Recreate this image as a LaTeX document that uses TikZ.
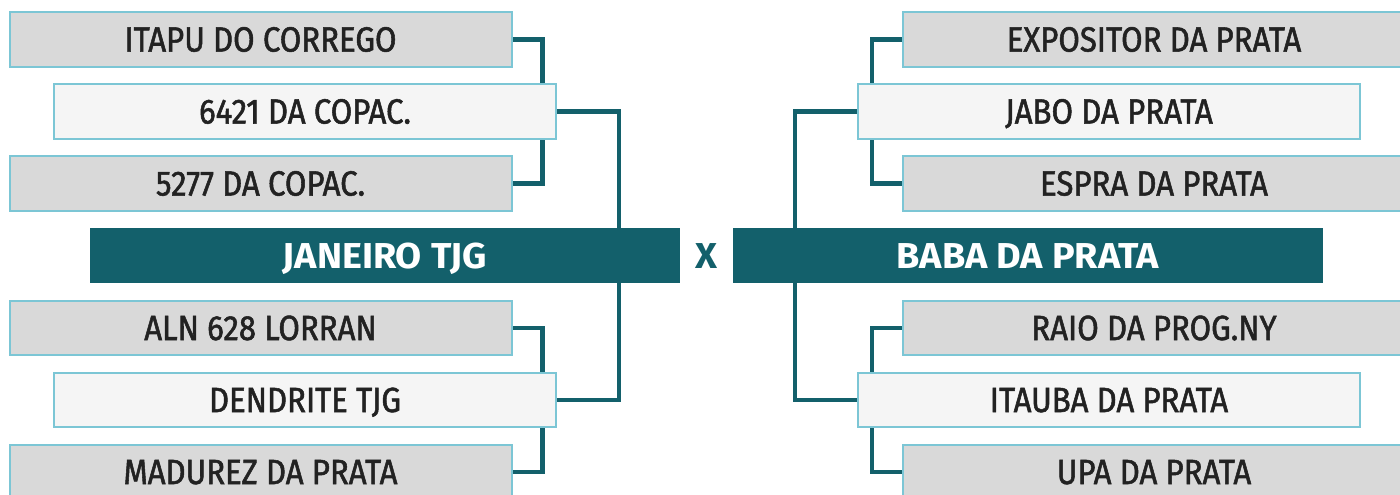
\documentclass[tikz,border=0pt]{standalone}
\usepackage{fontspec}
\setmainfont{Fira Sans}[FakeStretch=0.89, FakeBold=1.5]
\newfontfamily\finalfont{Fira Sans}[FakeStretch=1.05]
\usepackage{xcolor}
\usetikzlibrary{positioning, calc, backgrounds}

\definecolor{tealdark}{HTML}{13606B}
\definecolor{boxedge}{HTML}{7CC6D5}
\definecolor{boxgray}{HTML}{D9D9D9}
\definecolor{boxlight}{HTML}{F5F5F5}
\definecolor{inktext}{HTML}{222222}

\begin{document}
\begin{tikzpicture}[
    x=1pt, y=1pt,
    node distance=17.5pt,
    every node/.style={inner sep=0pt, outer sep=0pt, font=\fontsize{35}{42}\selectfont},
    team/.style={
        draw=boxedge,
        line width=2pt,
        fill=boxgray,
        text=inktext,
        minimum width=502pt,
        minimum height=54.5pt,
        text height=24pt,
        text depth=0pt
    },
    seed/.style={team, fill=boxlight},
    final/.style={
        fill=tealdark,
        text=white,
        minimum width=590pt,
        minimum height=55pt,
        text height=24.5pt,
        text depth=0pt,
        font=\fontsize{36}{42}\selectfont\finalfont\bfseries
    },
    vs/.style={text=tealdark, font=\fontsize{36}{42}\selectfont\finalfont\bfseries},
    link/.style={draw=tealdark, line width=4.5pt}
]
\useasboundingbox (0,0) rectangle (1400,-495);

% finalists
\node[final] (jan) at (385,-255.8) {JANEIRO TJG};
\node[final, right=53pt of jan] (bab) {BABA DA PRATA};
\node[vs] (versus) at ($(jan.east)!0.5!(bab.west)$) {X};

% left side
\node[team, above=of jan, xshift=-124.5pt] (a3) {5277 DA COPAC.};
\node[seed, above=of a3, xshift=44.5pt] (a2) {6421 DA COPAC.};
\node[team, above=of a2, xshift=-44.5pt] (a1) {ITAPU DO CORREGO};
\node[team, below=of jan, xshift=-124.5pt] (b1) {ALN 628 LORRAN};
\node[seed, below=of b1, xshift=44.5pt] (b2) {DENDRITE TJG};
\node[team, below=of b2, xshift=-44.5pt] (b3) {MADUREZ DA PRATA};

% right side
\node[team, above=of bab, xshift=126pt] (c3) {ESPRA DA PRATA};
\node[seed, above=of c3, xshift=-45pt] (c2) {JABO DA PRATA};
\node[team, above=of c2, xshift=45pt] (c1) {EXPOSITOR DA PRATA};
\node[team, below=of bab, xshift=126pt] (d1) {RAIO DA PROG.NY};
\node[seed, below=of d1, xshift=-45pt] (d2) {ITAUBA DA PRATA};
\node[team, below=of d2, xshift=45pt] (d3) {UPA DA PRATA};

\begin{pgfonlayer}{background}
\draw[link] (a1.east) -- ++(31,0) |- (a3.east);
\draw[link] (a2.east) -| ($(jan.north east)+(-61,0)$);
\draw[link] (b1.east) -- ++(31,0) |- (b3.east);
\draw[link] (b2.east) -| ($(jan.south east)+(-61,0)$);
\draw[link] (c1.west) -- ++(-31,0) |- (c3.west);
\draw[link] (c2.west) -| ($(bab.north west)+(62,0)$);
\draw[link] (d1.west) -- ++(-31,0) |- (d3.west);
\draw[link] (d2.west) -| ($(bab.south west)+(62,0)$);
\end{pgfonlayer}

\end{tikzpicture}
\end{document}
